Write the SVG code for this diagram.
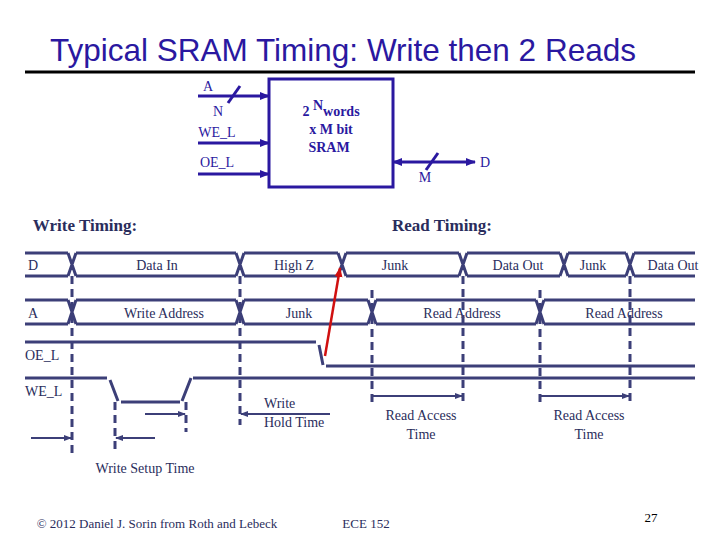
<svg xmlns="http://www.w3.org/2000/svg" width="720" height="540" viewBox="0 0 720 540">
<style>
.t{font-family:"Liberation Serif",serif;font-size:14px;fill:#2a2d5c}
.b{font-weight:bold}
.h{font-size:17px}
.s{stroke:#3c3f78;stroke-width:3;fill:none}
.d{stroke:#3c3f78;stroke-width:3;fill:none;stroke-dasharray:8,5}
.a{stroke:#3c3f78;stroke-width:2;fill:none}
.blu{stroke:#2a18a0;stroke-width:3;fill:none}
.bt{font-family:"Liberation Serif",serif;font-size:14px;fill:#2a18a0}
</style>
<defs>
<marker id="m" markerWidth="8" markerHeight="8" refX="7" refY="4" orient="auto" markerUnits="userSpaceOnUse"><path d="M0,1 L8,4 L0,7 z" fill="#3c3f78"/></marker>
<marker id="mb" markerWidth="10" markerHeight="10" refX="9" refY="5" orient="auto" markerUnits="userSpaceOnUse"><path d="M0,1 L10,5 L0,9 z" fill="#2a18a0"/></marker>
<marker id="mbs" markerWidth="10" markerHeight="10" refX="1" refY="5" orient="auto" markerUnits="userSpaceOnUse"><path d="M10,1 L0,5 L10,9 z" fill="#2a18a0"/></marker>
<marker id="mr" markerWidth="10" markerHeight="10" refX="9" refY="5" orient="auto" markerUnits="userSpaceOnUse"><path d="M0,1 L10,5 L0,9 z" fill="#d01010"/></marker>
</defs>
<text x="343" y="61" text-anchor="middle" style="font-family:'Liberation Sans',sans-serif;font-size:31.5px;fill:#2a18a0">Typical SRAM Timing: Write then 2 Reads</text>
<line x1="25" y1="72" x2="695" y2="72" stroke="#000" stroke-width="3"/>
<g id="sram">
<rect x="269" y="79" width="124" height="108" class="blu"/>
<text x="331" y="116" text-anchor="middle" class="bt b">2 <tspan dy="-6">N</tspan><tspan dy="6">words</tspan></text>
<text x="331" y="134" text-anchor="middle" class="bt b">x  M bit</text>
<text x="329" y="152" text-anchor="middle" class="bt b">SRAM</text>
</g>
<g id="inputs">
<line x1="198" y1="96" x2="269" y2="96" class="blu" marker-end="url(#mb)"/>
<line x1="228" y1="103" x2="240" y2="86" class="blu"/>
<text x="208" y="91" text-anchor="middle" class="bt">A</text>
<text x="218" y="116" text-anchor="middle" class="bt">N</text>
<line x1="198" y1="143" x2="269" y2="143" class="blu" marker-end="url(#mb)"/>
<text x="217" y="137" text-anchor="middle" class="bt">WE_L</text>
<line x1="198" y1="174" x2="269" y2="174" class="blu" marker-end="url(#mb)"/>
<text x="217" y="167" text-anchor="middle" class="bt">OE_L</text>
<line x1="393" y1="162" x2="475" y2="162" class="blu" marker-start="url(#mbs)" marker-end="url(#mb)"/>
<line x1="426" y1="170" x2="438" y2="153" class="blu"/>
<text x="425" y="182" text-anchor="middle" class="bt">M</text>
<text x="485" y="167" text-anchor="middle" class="bt">D</text>
</g>
<text x="85" y="231" text-anchor="middle" class="t b h">Write Timing:</text>
<text x="442" y="231" text-anchor="middle" class="t b h">Read Timing:</text>
<g id="signals">
<path class="s" d="M25,253H68M76,253H236M244,253H338M346,253H459M467,253H560M568,253H626M634,253H695M25,276H68M76,276H236M244,276H338M346,276H459M467,276H560M568,276H626M634,276H695"/>
<path class="s" d="M68,253L76,276M76,253L68,276M236,253L244,276M244,253L236,276M338,253L346,276M346,253L338,276M459,253L467,276M467,253L459,276M560,253L568,276M568,253L560,276M626,253L634,276M634,253L626,276"/>
<path class="s" d="M25,300H68M76,300H236M244,300H368M376,300H536M544,300H695M25,324H68M76,324H236M244,324H368M376,324H536M544,324H695"/>
<path class="s" d="M68,300L76,324M76,300L68,324M236,300L244,324M244,300L236,324M368,300L376,324M376,300L368,324M536,300L544,324M544,300L536,324"/>
<path class="s" d="M25,342H316M319,345L323,365M326,366H695"/>
<path class="s" d="M25,378H107M110,380L118,401M121,402H180M182,401L191,378M193,378H695"/>
</g>
<g id="labels">
<text x="28" y="270" class="t">D</text>
<text x="157" y="270" text-anchor="middle" class="t">Data In</text>
<text x="294" y="270" text-anchor="middle" class="t">High Z</text>
<text x="395" y="270" text-anchor="middle" class="t">Junk</text>
<text x="518" y="270" text-anchor="middle" class="t">Data Out</text>
<text x="593" y="270" text-anchor="middle" class="t">Junk</text>
<text x="673" y="270" text-anchor="middle" class="t">Data Out</text>
<text x="28" y="318" class="t">A</text>
<text x="164" y="318" text-anchor="middle" class="t">Write Address</text>
<text x="299" y="318" text-anchor="middle" class="t">Junk</text>
<text x="462" y="318" text-anchor="middle" class="t">Read Address</text>
<text x="624" y="318" text-anchor="middle" class="t">Read Address</text>
<text x="25" y="360" class="t">OE_L</text>
<text x="25" y="396" class="t">WE_L</text>
<text x="264" y="408" class="t">Write</text>
<text x="264" y="427" class="t">Hold Time</text>
<text x="421" y="420" text-anchor="middle" class="t">Read Access</text>
<text x="421" y="439" text-anchor="middle" class="t">Time</text>
<text x="589" y="420" text-anchor="middle" class="t">Read Access</text>
<text x="589" y="439" text-anchor="middle" class="t">Time</text>
<text x="145" y="473" text-anchor="middle" class="t">Write Setup Time</text>
</g>
<g id="connectors">
<path class="d" d="M72,276V453M115,402V450M186,402V432M240,276V425M372,290V405M463,276V405M540,290V405M630,276V405"/>
<line x1="31" y1="438" x2="71" y2="438" class="a" marker-end="url(#m)"/>
<line x1="155" y1="438" x2="116" y2="438" class="a" marker-end="url(#m)"/>
<line x1="145" y1="414" x2="185" y2="414" class="a" marker-end="url(#m)"/>
<line x1="330" y1="414" x2="241" y2="414" class="a" marker-end="url(#m)"/>
<line x1="372" y1="396" x2="462" y2="396" class="a" marker-end="url(#m)"/>
<line x1="540" y1="396" x2="629" y2="396" class="a" marker-end="url(#m)"/>
<line x1="325" y1="356" x2="340" y2="268" stroke="#d01010" stroke-width="2.5" marker-end="url(#mr)"/>
</g>
<text x="157" y="528" text-anchor="middle" style="font-family:'Liberation Serif',serif;font-size:13px;fill:#2a2d5c">© 2012 Daniel J. Sorin from Roth and Lebeck</text>
<text x="366" y="528" text-anchor="middle" style="font-family:'Liberation Serif',serif;font-size:13px;fill:#2a2d5c">ECE 152</text>
<text x="651" y="522" text-anchor="middle" style="font-family:'Liberation Serif',serif;font-size:13px;fill:#000">27</text>
</svg>
